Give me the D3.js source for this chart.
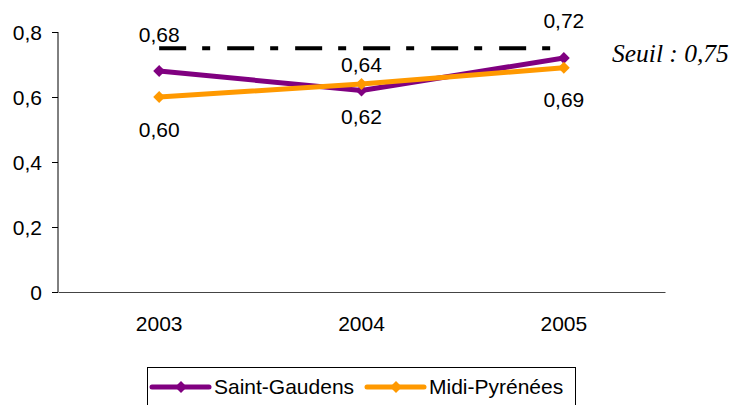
<!DOCTYPE html>
<html>
<head>
<meta charset="utf-8">
<script src="https://cdn.jsdelivr.net/npm/d3@7"></script>
<style>
  body { margin: 0; background: #fff; }
  text { font-family: "Liberation Sans", Arial, sans-serif; }
</style>
</head>
<body>
<script>
// Data
const years = ["2003", "2004", "2005"];
const saintGaudens = [0.68, 0.62, 0.72];
const midiPyrenees = [0.60, 0.64, 0.69];
const seuil = 0.75;
const yTicks = [0, 0.2, 0.4, 0.6, 0.8];

const series = [
    { name: "Saint-Gaudens", values: saintGaudens, color: "#800080" },
    { name: "Midi-Pyrénées", values: midiPyrenees, color: "#FF9900" }
];

// label offsets (baseline relative to the point), as placed in the original
const labelDy = [
    [-29, 33, -30],
    [40, -12, 39]
];

const width = 733;
const height = 405;
const fontSize = "21px";

const svg = d3.select("body")
    .append("svg")
    .attr("width", width)
    .attr("height", height);

const xScale = d3.scaleBand()
    .domain(years)
    .range([58, 665]);

const yScale = d3.scaleLinear()
    .domain([0, 0.8])
    .range([292, 32]);

const fmt = d => d3.format(".2f")(d).replace(".", ",");
const xc = d => xScale(d) + xScale.bandwidth() / 2;

// y axis
const yAxis = d3.axisLeft(yScale)
    .tickValues(yTicks)
    .tickSize(6)
    .tickFormat(d => d === 0 ? "0" : String(d).replace(".", ","));

const yAxisGroup = svg.append("g")
    .attr("transform", "translate(58,0)")
    .call(yAxis);
yAxisGroup.attr("font-family", null);
yAxisGroup.select(".domain").attr("stroke", "#000").attr("d", "M0,32V292");
yAxisGroup.selectAll(".tick line").attr("stroke", "#000");
yAxisGroup.selectAll(".tick text")
    .attr("x", -16)
    .attr("dy", "0.36em")
    .style("font-size", fontSize)
    .attr("fill", "#000");

// x axis
const xAxis = d3.axisBottom(xScale).tickSize(0).tickPadding(0);
const xAxisGroup = svg.append("g")
    .attr("transform", "translate(0,292)")
    .call(xAxis);
xAxisGroup.attr("font-family", null);
xAxisGroup.select(".domain").attr("stroke", "#444");
xAxisGroup.selectAll(".tick text")
    .attr("y", 39)
    .attr("dy", 0)
    .style("font-size", fontSize)
    .attr("fill", "#000");

// threshold line
svg.append("line")
    .attr("x1", xc(years[0]))
    .attr("x2", xc(years[years.length - 1]))
    .attr("y1", yScale(seuil))
    .attr("y2", yScale(seuil))
    .attr("stroke", "#000")
    .attr("stroke-width", 4)
    .attr("stroke-dasharray", "27,16,8,17");

svg.append("text")
    .attr("x", 612)
    .attr("y", 62)
    .style("font-family", "'Liberation Serif', 'Times New Roman', serif")
    .style("font-style", "italic")
    .style("font-size", "25.5px")
    .text("Seuil : " + String(seuil).replace(".", ","));

// series
const line = d3.line()
    .x((d, i) => xc(years[i]))
    .y(d => yScale(d));

const diamond = d3.symbol().type(d3.symbolDiamond2).size(90);

series.forEach((s, si) => {
    const g = svg.append("g");
    g.append("path")
        .datum(s.values)
        .attr("d", line)
        .attr("fill", "none")
        .attr("stroke", s.color)
        .attr("stroke-width", 5)
        .attr("stroke-linejoin", "round");

    g.selectAll(".marker")
        .data(s.values)
        .enter()
        .append("path")
        .attr("class", "marker")
        .attr("d", diamond)
        .attr("transform", (d, i) => `translate(${xc(years[i])},${yScale(d)})`)
        .attr("fill", s.color);
});

// value labels
series.forEach((s, si) => {
    svg.selectAll(".lbl" + si)
        .data(s.values)
        .enter()
        .append("text")
        .attr("class", "lbl" + si)
        .attr("x", (d, i) => xc(years[i]))
        .attr("y", (d, i) => yScale(d) + labelDy[si][i])
        .attr("text-anchor", "middle")
        .style("font-size", fontSize)
        .text(d => fmt(d));
});

// legend
const legend = svg.append("g");
legend.append("rect")
    .attr("x", 147.5)
    .attr("y", 367.5)
    .attr("width", 428)
    .attr("height", 45)
    .attr("fill", "#fff")
    .attr("stroke", "#000")
    .attr("stroke-width", 1);

const legendX = [152, 367];
series.forEach((s, si) => {
    const lg = legend.append("g").attr("transform", `translate(${legendX[si]},387)`);
    lg.append("line")
        .attr("x1", 0).attr("x2", 57)
        .attr("stroke", s.color)
        .attr("stroke-width", 5)
        .attr("stroke-linecap", "round");
    lg.append("path")
        .attr("d", diamond)
        .attr("transform", "translate(29,0)")
        .attr("fill", s.color);
    lg.append("text")
        .attr("x", 62)
        .attr("y", 7)
        .style("font-size", fontSize)
        .text(s.name);
});
</script>
</body>
</html>
